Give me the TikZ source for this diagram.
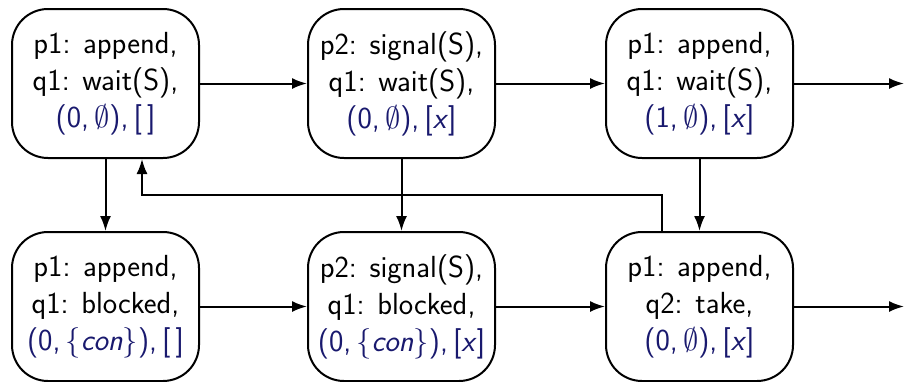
\RequirePackage{fix-cm}
\documentclass[tikz,border=0pt]{standalone}
\usetikzlibrary{arrows.meta}
\definecolor{stateblue}{RGB}{25,25,110}
\newcommand{\st}[1]{\textcolor{stateblue}{#1}}
\tikzset{
  state/.style={draw, line width=2pt, rounded corners=36pt, minimum width=187pt, minimum height=149pt,
    inner sep=0pt, align=center, font=\sffamily\fontsize{30.5}{37}\selectfont},
  arr/.style={line width=2pt, -{Latex[length=15pt,width=11pt]}}
}
\begin{document}
\begin{tikzpicture}[x=1pt,y=1pt]
\useasboundingbox (0,0) rectangle (904,-381);
\node[state] (n1) at (105.5,-83.5) {p1: append,\\q1: wait(S),\\\st{(0,\,$\emptyset$),\,[\,]}};
\node[state] (n2) at (401.5,-83.5) {p2: signal(S),\\q1: wait(S),\\\st{(0,\,$\emptyset$),\,[\textit{x}]}};
\node[state] (n3) at (699.5,-83.5) {p1: append,\\q1: wait(S),\\\st{(1,\,$\emptyset$),\,[\textit{x}]}};
\node[state] (n4) at (105.5,-306.5) {p1: append,\\q1: blocked,\\\st{(0,\,$\{$\textit{con}$\}$),\,[\,]}};
\node[state] (n5) at (401.5,-306.5) {p2: signal(S),\\q1: blocked,\\\st{(0,\,$\{$\textit{con}$\}$),\,[\textit{x}]}};
\node[state] (n6) at (699.5,-306.5) {p1: append,\\q2: take,\\\st{(0,\,$\emptyset$),\,[\textit{x}]}};
\coordinate (o1) at (904,-83.5);
\coordinate (o2) at (904,-306.5);
\coordinate (fbR) at (662,-195);
\coordinate (fbL) at (142,-195);
\draw[arr] (n1) -- (n2);
\draw[arr] (n2) -- (n3);
\draw[arr] (n3) -- (o1);
\draw[arr] (n4) -- (n5);
\draw[arr] (n5) -- (n6);
\draw[arr] (n6) -- (o2);
\draw[arr] (n1) -- (n4);
\draw[arr] (n2) -- (n5);
\draw[arr] (n3) -- (n6);
\draw[arr] (n6.north -| fbR) -- (fbR) -- (fbL) -- (n1.south -| fbL);
\end{tikzpicture}
\end{document}
